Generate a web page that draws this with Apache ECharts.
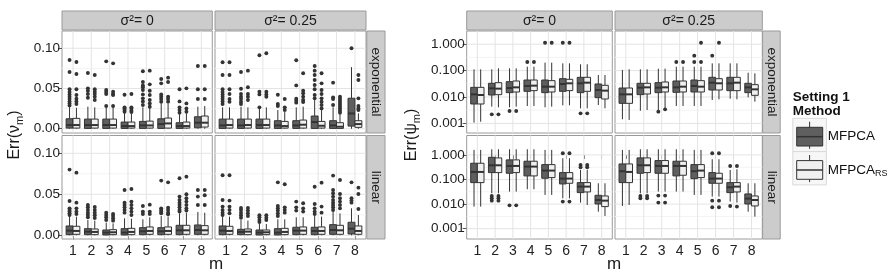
<!DOCTYPE html>
<html><head><meta charset="utf-8">
<script src="https://cdn.jsdelivr.net/npm/echarts@6/dist/echarts.min.js"></script>
<style>html,body{margin:0;padding:0;background:#fff}#c{width:891px;height:279px}</style>
</head><body><div id="c"></div><script>
// ---------- data ----------
const categories = [1, 2, 3, 4, 5, 6, 7, 8];
const sigmaLevels = ['0', '0.25'];
const errorTypes = ['exponential', 'linear'];
const methodNames = ['MFPCA', 'MFPCA_RS'];
const nuMajorTicks = [0, 0.05, 0.10];
const nuMinorTicks = [0.025, 0.075];
const psiMajorTicks = [0.001, 0.01, 0.1, 1];

// box = [lower whisker, Q1, median, Q3, upper whisker]
// Err(nu_m), exponential, sigma^2 = 0
const nuExpS0Dark = [[0,0.0008,0.0046,0.0124,0.027],[0,0.0004,0.0046,0.012,0.0274],[0,0.0004,0.0046,0.012,0.0274],[0,0.0004,0.0033,0.0083,0.0203],[0,0.0004,0.0041,0.0091,0.0266],[0,0.0004,0.0058,0.0124,0.0315],[0,0.0004,0.0033,0.0075,0.0183],[0,0.0012,0.0075,0.0149,0.0274]];
const nuExpS0Light = [[0,0.0008,0.0046,0.0129,0.0261],[0,0.0008,0.0046,0.012,0.0266],[0,0.0008,0.0046,0.012,0.0266],[0,0.0008,0.0033,0.0083,0.0191],[0,0.0008,0.0041,0.0095,0.0266],[0,0.0008,0.0066,0.0133,0.0307],[0,0.0008,0.0033,0.0083,0.0191],[0,0.0021,0.0075,0.0158,0.0282]];
const nuExpS0DarkOut = [[0.0855,0.0705,0.049,0.0456,0.0427,0.0398,0.0369,0.034,0.0315,0.029],[0.0693,0.0502,0.0473,0.0432,0.0386],[0.0838,0.0481,0.0456,0.0432,0.0282],[0.0423,0.0266,0.0249,0.0232,0.0212],[0.0714,0.0581,0.0539,0.0515,0.0481,0.0427,0.0378,0.034,0.0295],[0.0618,0.0564,0.0427,0.0398,0.0369,0.0336],[0.049,0.034,0.0266,0.0232,0.02],[0.078,0.049,0.0369]];
const nuExpS0LightOut = [[0.083,0.068,0.049,0.0419,0.0373,0.034,0.0307],[0.0668,0.049,0.0461,0.0432,0.0398,0.0357],[0.0813,0.0461,0.0432,0.0419,0.0282],[0.0432,0.0266,0.0249,0.0224,0.0207],[0.0722,0.0552,0.0473,0.0419,0.0357,0.0315,0.0274],[0.0635,0.0581,0.0398,0.0369,0.0336],[0.0502,0.0315,0.0253,0.0212],[0.078,0.049,0.0369]];
// Err(nu_m), exponential, sigma^2 = 0.25
const nuExpS1Dark = [[0,0.0004,0.0041,0.012,0.0266],[0,0.0004,0.0041,0.012,0.0274],[0,0.0004,0.0046,0.012,0.0266],[0,0.0004,0.0041,0.01,0.0232],[0,0.0004,0.0041,0.01,0.0266],[0,0.0004,0.0083,0.0158,0.0357],[0,0.0004,0.0041,0.01,0.0266],[0,0.0033,0.019,0.0379,0.0765]];
const nuExpS1Light = [[0,0.0008,0.0046,0.012,0.0266],[0,0.0008,0.0046,0.012,0.0266],[0,0.0008,0.0046,0.012,0.0266],[0,0.0008,0.0033,0.0091,0.0207],[0,0.0008,0.005,0.0108,0.0274],[0,0.0008,0.0037,0.0091,0.0232],[0,0.0004,0.0025,0.0075,0.0191],[0,0.0017,0.0058,0.01,0.0191]];
const nuExpS1DarkOut = [[0.0826,0.0668,0.049,0.0456,0.0427,0.0398,0.0369,0.034,0.0307],[0.0705,0.0498,0.0432,0.0398,0.0369,0.0336,0.0307],[0.0913,0.0461,0.0427,0.0266],[0.0423,0.0307,0.0282],[0.0851,0.0539,0.0373,0.0349,0.0324],[0.078,0.0722,0.0668,0.0606,0.0544,0.049,0.0419,0.0378],[0.0573,0.039,0.0369,0.0295],[0.1]];
const nuExpS1LightOut = [[0.0826,0.0668,0.049,0.0432,0.0369,0.0336],[0.0722,0.0515,0.0432,0.0398,0.0357],[0.0938,0.0461,0.0427,0.0398],[0.0369,0.0266,0.0232],[0.0689,0.0473,0.044,0.0398,0.0357,0.0332],[0.0689,0.0564,0.0481,0.0432,0.0378,0.0336,0.0295,0.0253],[0.0398,0.0373,0.0349,0.0324,0.0299,0.0274,0.0249,0.0224,0.02],[0.0668,0.0606,0.0378,0.0282,0.0253,0.0232]];
// Err(nu_m), linear, sigma^2 = 0
const nuLinS0Dark = [[0,0.0008,0.0057,0.0114,0.0236],[0,0.0008,0.0045,0.0081,0.0187],[0,0.0004,0.0033,0.0065,0.0154],[0,0.0004,0.0033,0.0081,0.0207],[0,0.0008,0.0049,0.0093,0.0195],[0,0.0008,0.0049,0.0093,0.0236],[0,0.0008,0.0061,0.0122,0.0268],[0,0.0012,0.0065,0.0126,0.0285]];
const nuLinS0Light = [[0,0.0012,0.0053,0.011,0.0228],[0,0.0008,0.0041,0.0077,0.0179],[0,0.0008,0.0037,0.0069,0.0146],[0,0.0008,0.0041,0.0085,0.0203],[0,0.0012,0.0053,0.0102,0.022],[0,0.0012,0.0053,0.0102,0.0228],[0,0.0012,0.0061,0.0122,0.0276],[0,0.0012,0.0061,0.0118,0.0276]];
const nuLinS0DarkOut = [[0.0801,0.0419,0.0329,0.0309,0.0289,0.0268,0.0248],[0.037,0.0341,0.0309,0.0276,0.0248,0.022],[0.0276,0.0248,0.022,0.0187],[0.0553,0.0398,0.037,0.0341,0.0309,0.0276],[0.0358,0.0289,0.026],[0.0667,0.0329,0.0309,0.0289,0.0268],[0.0695,0.0472,0.0431,0.0398,0.037,0.0341,0.0309,0.0289],[0.0553,0.0472,0.037]];
const nuLinS0LightOut = [[0.0764,0.0398,0.0329,0.0289,0.026],[0.0346,0.0309,0.0276,0.0244,0.0211],[0.026,0.0236,0.0207,0.0179],[0.0565,0.0411,0.037,0.0329,0.0289,0.0248],[0.0374,0.0289,0.026],[0.0646,0.0337,0.0309,0.0276,0.0256],[0.0715,0.05,0.0451,0.0411,0.037,0.0329,0.0301],[0.0553,0.0488,0.037]];
// Err(nu_m), linear, sigma^2 = 0.25
const nuLinS1Dark = [[0,0.0008,0.0057,0.0114,0.0236],[0,0.0008,0.0041,0.0073,0.0187],[0,0.0004,0.0033,0.0065,0.0138],[0,0.0004,0.0033,0.0081,0.0195],[0,0.0008,0.0057,0.0098,0.022],[0,0.0008,0.0053,0.0098,0.0236],[0,0.0012,0.0065,0.013,0.0289],[0,0.0016,0.0081,0.0159,0.0329]];
const nuLinS1Light = [[0,0.0012,0.0053,0.011,0.0228],[0,0.0008,0.0045,0.0077,0.0179],[0,0.0008,0.0037,0.0065,0.0138],[0,0.0008,0.0041,0.0085,0.0195],[0,0.0012,0.0057,0.0102,0.022],[0,0.0012,0.0053,0.0102,0.0228],[0,0.0012,0.0061,0.0122,0.0268],[0,0.0012,0.0053,0.0114,0.0248]];
const nuLinS1DarkOut = [[0.0732,0.0431,0.035,0.0309,0.0276,0.0248],[0.0333,0.0309,0.0276,0.0244,0.0215],[0.0244,0.022,0.0187,0.0163],[0.0646,0.0358,0.0329,0.0301,0.0268,0.0236],[0.0411,0.0341,0.0301],[0.0593,0.0382,0.0329,0.0289,0.026],[0.0728,0.0553,0.0512,0.0472,0.0431,0.0398,0.037,0.0341,0.0309],[0.0646,0.0451,0.0423,0.0398]];
const nuLinS1LightOut = [[0.0732,0.0423,0.035,0.0309,0.0268],[0.0333,0.0301,0.0268,0.0236],[0.0244,0.0215,0.0187],[0.0622,0.0341,0.0309,0.0276],[0.039,0.0329,0.0289],[0.0642,0.035,0.0276],[0.0675,0.0504,0.0451,0.0411,0.037,0.0329],[0.0581,0.0504,0.0321]];

// Err(psi_m), exponential, sigma^2 = 0
const psiExpS0Dark = [[0.00107,0.00543,0.0126,0.0232,0.1117],[0.00431,0.0119,0.0213,0.033,0.1117],[0.00406,0.0146,0.0219,0.0381,0.122],[0.00456,0.0164,0.0261,0.044,0.141],[0.00406,0.0146,0.0246,0.044,0.2],[0.00483,0.0164,0.031,0.0494,0.1885],[0.00372,0.0146,0.033,0.0556,0.173],[0.00498,0.00944,0.0184,0.031,0.0681]];
const psiExpS0Light = [[0.00116,0.00543,0.0119,0.0232,0.1117],[0.00406,0.01225,0.0207,0.0349,0.122],[0.00431,0.01547,0.0232,0.0404,0.122],[0.00456,0.0174,0.0269,0.044,0.141],[0.00431,0.01547,0.0246,0.0416,0.2],[0.00483,0.0174,0.033,0.0467,0.1885],[0.00372,0.0164,0.0349,0.0556,0.173],[0.00372,0.0084,0.0174,0.0277,0.0681]];
const psiExpS0DarkOut = [[],[0.0022],[0.00295],[0.212],[1.14],[1.14],[0.0024],[]];
const psiExpS0LightOut = [[],[0.0022],[0.00295],[0.212],[1.14],[1.14],[0.0024],[]];
// Err(psi_m), exponential, sigma^2 = 0.25
const psiExpS1Dark = [[0.00143,0.00575,0.0126,0.0219,0.1054],[0.00303,0.01225,0.0226,0.033,0.1117],[0.00303,0.0146,0.0226,0.0349,0.1184],[0.00456,0.01503,0.0232,0.0404,0.141],[0.00456,0.01547,0.0261,0.044,0.141],[0.00769,0.0184,0.0349,0.0556,0.1885],[0.00865,0.0174,0.033,0.0556,0.1885],[0.0097,0.0146,0.0232,0.033,0.0835]];
const psiExpS1Light = [[0.00135,0.00575,0.0126,0.0219,0.1117],[0.00322,0.013,0.0232,0.033,0.1117],[0.00372,0.01547,0.0232,0.037,0.1184],[0.00456,0.01547,0.0246,0.0404,0.141],[0.00456,0.01547,0.0246,0.0416,0.141],[0.00816,0.0184,0.033,0.0494,0.1885],[0.00816,0.0174,0.0349,0.0556,0.1885],[0.00665,0.01156,0.0195,0.0293,0.0787]];
const psiExpS1DarkOut = [[],[],[0.00278],[0.212],[0.368,0.212],[0.368],[],[]];
const psiExpS1LightOut = [[],[],[0.00341],[0.212],[1.14,0.212],[1.14],[],[]];
// Err(psi_m), linear, sigma^2 = 0
const psiLinS0Dark = [[0.0079,0.0748,0.203,0.459,1.6],[0.0275,0.191,0.379,0.80,1.70],[0.0322,0.1795,0.356,0.628,1.70],[0.0401,0.14,0.335,0.554,1.70],[0.0236,0.1125,0.2307,0.404,1.6],[0.0172,0.0661,0.1089,0.191,0.734],[0.0115,0.0293,0.0514,0.0748,0.245],[0.0049,0.0101,0.0147,0.0228,0.0703]];
const psiLinS0Light = [[0.0079,0.0748,0.203,0.459,1.6],[0.0275,0.191,0.379,0.757,1.70],[0.0322,0.191,0.356,0.628,1.70],[0.0401,0.14,0.335,0.554,1.70],[0.0236,0.1197,0.2307,0.404,1.6],[0.0172,0.0703,0.1089,0.191,0.734],[0.0092,0.0312,0.0514,0.0748,0.245],[0.0033,0.0079,0.0138,0.0214,0.0703]];
const psiLinS0DarkOut = [[],[0.0214,0.0172,0.0138],[0.0089],[],[],[1.17,0.0126],[0.392,0.315],[]];
const psiLinS0LightOut = [[],[0.0214,0.0172,0.0138],[0.0089],[],[],[1.17,0.0126],[0.392,0.315],[]];
// Err(psi_m), linear, sigma^2 = 0.25
const psiLinS1Dark = [[0.0084,0.0748,0.217,0.43,1.6],[0.0275,0.1795,0.379,0.757,1.70],[0.0322,0.1795,0.356,0.59,1.70],[0.0322,0.14,0.356,0.554,1.70],[0.0236,0.1089,0.217,0.404,1.6],[0.0201,0.0703,0.1089,0.191,0.668],[0.0126,0.0293,0.0483,0.0748,0.245],[0.0049,0.0101,0.0167,0.0259,0.0703]];
const psiLinS1Light = [[0.0092,0.0748,0.203,0.43,1.6],[0.0275,0.191,0.379,0.757,1.70],[0.0322,0.1795,0.356,0.59,1.70],[0.0322,0.149,0.356,0.554,1.70],[0.0236,0.1197,0.2307,0.404,1.6],[0.0201,0.0703,0.1089,0.1795,0.668],[0.0115,0.0312,0.0514,0.0748,0.261],[0.0031,0.0084,0.0147,0.0214,0.0703]];
const psiLinS1DarkOut = [[],[0.0214,0.0172],[0.0221,0.0115],[],[],[1.17,0.0138,0.0074],[0.356,0.0084],[]];
const psiLinS1LightOut = [[],[0.0214,0.0172],[0.0221,0.0115],[],[],[1.17,0.0138,0.0074],[0.356,0.0079],[]];

// ---------- layout ----------
const FONT = '"Liberation Sans", Arial, Helvetica, sans-serif';
const DARK = '#5f5f5f', LIGHT = '#f0f0f0', INK = '#333333';
const cols = [{x: 62, w: 150.3}, {x: 215, w: 151}, {x: 466.7, w: 145.6}, {x: 615, w: 147.3}];
const rows = [{y: 31, h: 102}, {y: 135.5, h: 103.5}];
const yRanges = {nu: [[-0.0053, 0.1215], [-0.0045, 0.1217]], psi: [[-3.364, 0.5], [-3.42, 0.79]]};

const panels = [
  {kind: 'nu', col: 0, row: 0, dark: nuExpS0Dark, light: nuExpS0Light, darkOut: nuExpS0DarkOut, lightOut: nuExpS0LightOut},
  {kind: 'nu', col: 1, row: 0, dark: nuExpS1Dark, light: nuExpS1Light, darkOut: nuExpS1DarkOut, lightOut: nuExpS1LightOut},
  {kind: 'nu', col: 0, row: 1, dark: nuLinS0Dark, light: nuLinS0Light, darkOut: nuLinS0DarkOut, lightOut: nuLinS0LightOut},
  {kind: 'nu', col: 1, row: 1, dark: nuLinS1Dark, light: nuLinS1Light, darkOut: nuLinS1DarkOut, lightOut: nuLinS1LightOut},
  {kind: 'psi', col: 2, row: 0, dark: psiExpS0Dark, light: psiExpS0Light, darkOut: psiExpS0DarkOut, lightOut: psiExpS0LightOut},
  {kind: 'psi', col: 3, row: 0, dark: psiExpS1Dark, light: psiExpS1Light, darkOut: psiExpS1DarkOut, lightOut: psiExpS1LightOut},
  {kind: 'psi', col: 2, row: 1, dark: psiLinS0Dark, light: psiLinS0Light, darkOut: psiLinS0DarkOut, lightOut: psiLinS0LightOut},
  {kind: 'psi', col: 3, row: 1, dark: psiLinS1Dark, light: psiLinS1Light, darkOut: psiLinS1DarkOut, lightOut: psiLinS1LightOut}
];

const HALF = 0.1875; // half width of a dodged box in category units

function boxRenderer(fill) {
  return function (params, api) {
    const x = api.value(0);
    const lo = api.coord([x, api.value(1)]);
    const q1 = api.coord([x - HALF, api.value(2)]);
    const md = api.coord([x - HALF, api.value(3)]);
    const mdR = api.coord([x + HALF, api.value(3)]);
    const q3 = api.coord([x + HALF, api.value(4)]);
    const hi = api.coord([x, api.value(5)]);
    const ls = {stroke: INK, lineWidth: 1};
    return {type: 'group', children: [
      {type: 'line', shape: {x1: lo[0], y1: lo[1], x2: lo[0], y2: q1[1]}, style: ls},
      {type: 'line', shape: {x1: hi[0], y1: hi[1], x2: hi[0], y2: q3[1]}, style: ls},
      {type: 'rect', shape: {x: q1[0], y: q3[1], width: q3[0] - q1[0], height: q1[1] - q3[1]}, style: {fill: fill, stroke: INK, lineWidth: 1}},
      {type: 'line', shape: {x1: md[0], y1: md[1], x2: mdR[0], y2: mdR[1]}, style: {stroke: INK, lineWidth: 2}}
    ]};
  };
}
function hLineRenderer(color) {
  return function (params, api) {
    const cs = params.coordSys;
    const y = api.coord([1, api.value(0)])[1];
    return {type: 'line', silent: true, shape: {x1: cs.x, y1: y, x2: cs.x + cs.width, y2: y}, style: {stroke: color, lineWidth: 1}};
  };
}
function vLineRenderer(color) {
  return function (params, api) {
    const cs = params.coordSys;
    const x = api.coord([api.value(0), 0])[0];
    return {type: 'line', silent: true, shape: {x1: x, y1: cs.y, x2: x, y2: cs.y + cs.height}, style: {stroke: color, lineWidth: 1}};
  };
}

const grids = [], xAxes = [], yAxes = [], series = [];
panels.forEach((p, i) => {
  const c = cols[p.col], r = rows[p.row];
  const tf = p.kind === 'psi' ? (v => Math.log10(v)) : (v => v);
  const range = yRanges[p.kind][p.row];
  const showY = p.col === 0 || p.col === 2;
  const showX = p.row === 1;
  grids.push({left: c.x, top: r.y, width: c.w, height: r.h, show: true, backgroundColor: '#ffffff', borderColor: '#9a9a9a', borderWidth: 1, containLabel: false, outerBoundsMode: 'none'});
  xAxes.push({
    type: 'value', gridIndex: i, min: 0.4, max: 8.6,
    axisLine: {show: false}, splitLine: {show: false},
    axisTick: {show: showX, customValues: categories, length: 4, lineStyle: {color: '#555', width: 1}},
    axisLabel: {show: showX, customValues: categories, margin: 5, fontSize: 14, color: '#222', fontFamily: FONT, formatter: v => String(v)}
  });
  let majors, minors, fmt;
  if (p.kind === 'nu') {
    majors = nuMajorTicks; minors = nuMinorTicks; fmt = v => v.toFixed(2);
  } else {
    majors = psiMajorTicks.map(v => Math.log10(v));
    minors = majors.slice(0, -1).map(v => v + 0.5);
    fmt = v => Math.pow(10, v).toFixed(3);
  }
  yAxes.push({
    type: 'value', gridIndex: i, min: range[0], max: range[1],
    axisLine: {show: false}, splitLine: {show: false},
    axisTick: {show: showY, customValues: majors, length: 4, lineStyle: {color: '#555', width: 1}},
    axisLabel: {show: showY, customValues: majors, margin: 2, fontSize: 13.5, color: '#222', fontFamily: FONT, formatter: fmt}
  });
  series.push({type: 'custom', xAxisIndex: i, yAxisIndex: i, silent: true, z: 1, renderItem: hLineRenderer('#f3f3f3'), data: minors.map(v => [v])});
  series.push({type: 'custom', xAxisIndex: i, yAxisIndex: i, silent: true, z: 1, renderItem: hLineRenderer('#e4e4e4'), data: majors.map(v => [v])});
  series.push({type: 'custom', xAxisIndex: i, yAxisIndex: i, silent: true, z: 1, renderItem: vLineRenderer('#e4e4e4'), data: categories.map(v => [v])});
  [[p.dark, p.darkOut, DARK, -HALF, methodNames[0]], [p.light, p.lightOut, LIGHT, HALF, methodNames[1]]].forEach(([boxes, outs, fill, off, name]) => {
    series.push({
      type: 'custom', name: name, xAxisIndex: i, yAxisIndex: i, z: 3, silent: true,
      encode: {x: 0, y: [1, 2, 3, 4, 5]},
      renderItem: boxRenderer(fill),
      data: boxes.map((b, k) => [categories[k] + off].concat(b.map(tf)))
    });
    const pts = [];
    outs.forEach((arr, k) => arr.forEach(v => pts.push([categories[k] + off, tf(v)])));
    series.push({
      type: 'scatter', xAxisIndex: i, yAxisIndex: i, z: 4, silent: true,
      symbol: 'circle', symbolSize: 3.9, itemStyle: {color: INK, opacity: 1},
      data: pts
    });
  });
});

// ---------- strips, titles, legend ----------
const graphics = [];
const txt = (x, y, text, size, extra) => Object.assign({type: 'text', x: x, y: y, silent: true,
  style: {text: text, fontSize: size, fontFamily: FONT, fill: '#1a1a1a', align: 'center', verticalAlign: 'middle', textAlign: 'center', textVerticalAlign: 'middle'}}, extra || {});
cols.forEach((c, ci) => {
  graphics.push({type: 'rect', silent: true, shape: {x: c.x, y: 11, width: c.w, height: 19}, style: {fill: '#cccccc', stroke: '#9a9a9a', lineWidth: 1}});
  graphics.push(txt(c.x + c.w / 2, 21, 'σ²= ' + sigmaLevels[ci % 2], 14));
});
const stripCols = [{x: 366.8, w: 18.2}, {x: 762.6, w: 17.6}];
stripCols.forEach(s => {
  rows.forEach((r, ri) => {
    graphics.push({type: 'rect', silent: true, shape: {x: s.x, y: r.y, width: s.w, height: r.h}, style: {fill: '#cccccc', stroke: '#9a9a9a', lineWidth: 1}});
    graphics.push(txt(s.x + s.w / 2, r.y + r.h / 2, errorTypes[ri], 13.5, {rotation: -Math.PI / 2}));
  });
});
// axis titles
graphics.push(txt(216, 264, 'm', 17));
graphics.push(txt(614, 264, 'm', 17));
const yTitleRich = {a: {fontSize: 16, fontFamily: FONT, fill: '#1a1a1a'}, b: {fontSize: 11, fontFamily: FONT, fill: '#1a1a1a', padding: [9, 0, 0, 0]}};
graphics.push(txt(15, 135, '{a|Err(ν}{b|m}{a|)}', 16, {rotation: Math.PI / 2}));
graphics[graphics.length - 1].style.rich = yTitleRich;
graphics.push(txt(412, 135, '{a|Err(ψ}{b|m}{a|)}', 16, {rotation: Math.PI / 2}));
graphics[graphics.length - 1].style.rich = yTitleRich;
// legend
const lgX = 792.8;
graphics.push({type: 'text', x: lgX, y: 97.5, silent: true, style: {text: 'Setting 1', fontSize: 13.5, fontWeight: 'bold', fontFamily: FONT, fill: '#111', align: 'left', verticalAlign: 'middle', textAlign: 'left', textVerticalAlign: 'middle'}});
graphics.push({type: 'text', x: lgX, y: 111, silent: true, style: {text: 'Method', fontSize: 13.5, fontWeight: 'bold', fontFamily: FONT, fill: '#111', align: 'left', verticalAlign: 'middle', textAlign: 'left', textVerticalAlign: 'middle'}});
[[DARK, '{a|MFPCA}'], [LIGHT, '{a|MFPCA}{b|RS}']].forEach(([fill, label], k) => {
  const y0 = 118.3 + k * 33.3;
  const cx = lgX + 16.8;
  graphics.push({type: 'rect', silent: true, shape: {x: lgX, y: y0, width: 33.6, height: 33.3}, style: {fill: '#f7f7f7', stroke: '#dadada', lineWidth: 1}});
  graphics.push({type: 'line', silent: true, shape: {x1: cx, y1: y0 + 3.4, x2: cx, y2: y0 + 30.5}, style: {stroke: INK, lineWidth: 1}});
  graphics.push({type: 'rect', silent: true, shape: {x: lgX + 3.9, y: y0 + 9, width: 26, height: 18.7}, style: {fill: fill, stroke: INK, lineWidth: 1}});
  graphics.push({type: 'line', silent: true, shape: {x1: lgX + 3.9, y1: y0 + 18.4, x2: lgX + 29.9, y2: y0 + 18.4}, style: {stroke: INK, lineWidth: 1.5}});
  graphics.push({type: 'text', x: lgX + 35, y: y0 + 18.2, silent: true, style: {text: label, fontSize: 13.5, fontFamily: FONT, fill: '#111', align: 'left', verticalAlign: 'middle', textAlign: 'left', textVerticalAlign: 'middle',
    rich: {a: {fontSize: 13.5, fontFamily: FONT, fill: '#111'}, b: {fontSize: 9, fontFamily: FONT, fill: '#111', padding: [7, 0, 0, 0]}}}});
});

const chart = echarts.init(document.getElementById('c'), null, {renderer: 'canvas'});
chart.setOption({
  animation: false,
  backgroundColor: '#ffffff',
  grid: grids, xAxis: xAxes, yAxis: yAxes, series: series,
  graphic: {elements: graphics}
});
</script></body></html>
